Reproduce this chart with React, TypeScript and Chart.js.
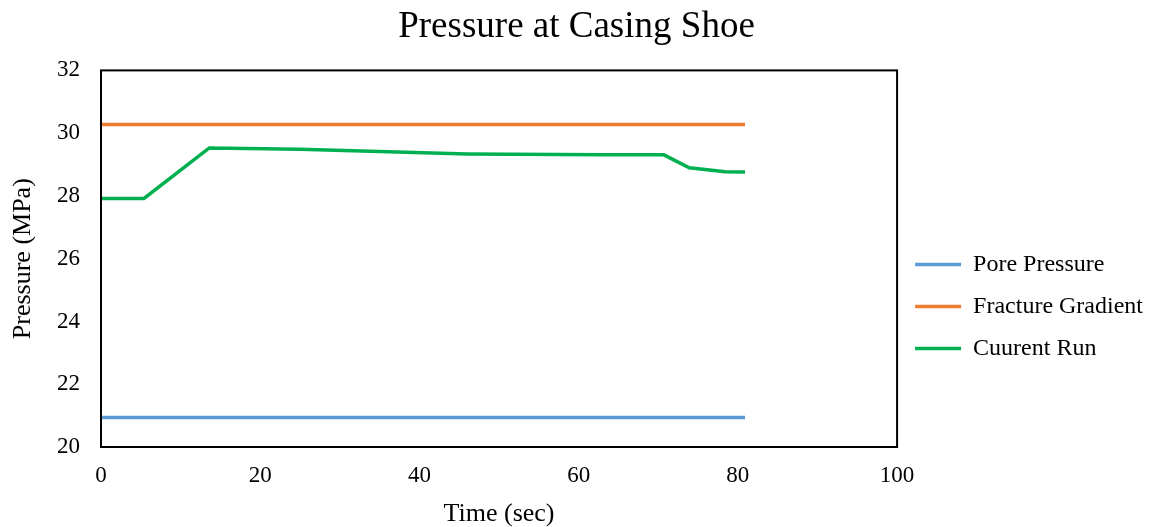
import React, { useEffect, useRef } from "react";
import { Chart, registerables } from "chart.js";

Chart.register(...registerables);

const chartTitle = "Pressure at Casing Shoe";
const xAxisTitle = "Time (sec)";
const yAxisTitle = "Pressure (MPa)";
const seriesNames = ["Pore Pressure", "Fracture Gradient", "Cuurent Run"];

const poreTime = [0, 80.9];
const porePressure = [20.94, 20.94];

const fractureTime = [0, 80.9];
const fractureGradient = [30.28, 30.28];

const runTime = [0, 5.4, 13.6, 25, 46, 63, 70.7, 73.9, 78.4, 80.9];
const runPressure = [27.92, 27.92, 29.53, 29.49, 29.34, 29.31, 29.31, 28.9, 28.77, 28.76];

const xMin = 0;
const xMax = 100;
const xStep = 20;
const yMin = 20;
const yMax = 32;
const yStep = 2;

const FONT = "'Liberation Serif', 'Times New Roman', serif";

const toPoints = (xs: number[], ys: number[]) => xs.map((x, i) => ({ x, y: ys[i] }));

const framePlugin = {
  id: "frame",
  afterDatasetsDraw(chart: any) {
    const { ctx, chartArea } = chart;
    ctx.save();
    ctx.strokeStyle = "#000000";
    ctx.lineWidth = 2;
    ctx.strokeRect(chartArea.left, chartArea.top, chartArea.right - chartArea.left, chartArea.bottom - chartArea.top);
    ctx.restore();
  },
};

export default function App() {
  const canvasRef = useRef<HTMLCanvasElement | null>(null);

  useEffect(() => {
    if (!canvasRef.current) return;
    const chart = new Chart(canvasRef.current, {
      type: "line",
      data: {
        datasets: [
          {
            label: seriesNames[0],
            data: toPoints(poreTime, porePressure),
            borderColor: "#5B9BD5",
            backgroundColor: "#5B9BD5",
            borderWidth: 3.5,
            pointRadius: 0,
            tension: 0,
          },
          {
            label: seriesNames[1],
            data: toPoints(fractureTime, fractureGradient),
            borderColor: "#ED7D31",
            backgroundColor: "#ED7D31",
            borderWidth: 3.5,
            pointRadius: 0,
            tension: 0,
          },
          {
            label: seriesNames[2],
            data: toPoints(runTime, runPressure),
            borderColor: "#00B050",
            backgroundColor: "#00B050",
            borderWidth: 3.5,
            pointRadius: 0,
            tension: 0,
          },
        ],
      },
      options: {
        responsive: false,
        animation: false,
        layout: { padding: { left: 0, right: 0, top: 0, bottom: 0 } },
        plugins: {
          title: {
            display: true,
            text: chartTitle,
            color: "#000000",
            font: { family: FONT, size: 37, weight: "normal" },
            padding: { top: 5, bottom: 21 },
          },
          legend: {
            position: "right",
            title: {
              display: true,
              text: " ",
              font: { family: FONT, size: 1, lineHeight: 1 },
              padding: { top: 85, bottom: 0 },
            },
            labels: {
              usePointStyle: true,
              pointStyle: "line",
              pointStyleWidth: 46,
              padding: 18,
              color: "#000000",
              font: { family: FONT, size: 24 },
            },
          },
          tooltip: { enabled: false },
        },
        scales: {
          x: {
            type: "linear",
            min: xMin,
            max: xMax,
            grid: { display: false, drawTicks: false },
            border: { display: false },
            ticks: {
              stepSize: xStep,
              padding: 15,
              color: "#000000",
              font: { family: FONT, size: 23 },
            },
            title: {
              display: true,
              text: xAxisTitle,
              color: "#000000",
              font: { family: FONT, size: 26, lineHeight: 0.96 },
              padding: { top: 0, bottom: 0 },
            },
            afterFit: (scale: any) => {
              scale.height = 80;
            },
          },
          y: {
            type: "linear",
            min: yMin,
            max: yMax,
            grid: { display: false, drawTicks: false },
            border: { display: false },
            ticks: {
              stepSize: yStep,
              padding: 21,
              color: "#000000",
              font: { family: FONT, size: 23 },
            },
            title: {
              display: true,
              text: yAxisTitle,
              color: "#000000",
              font: { family: FONT, size: 26 },
              padding: { top: 8, bottom: 0 },
            },
            afterFit: (scale: any) => {
              scale.width = 101;
            },
          },
        },
      },
      plugins: [framePlugin],
    });
    return () => chart.destroy();
  }, []);

  return (
    <div style={{ position: "fixed", left: 0, top: 0, width: 1153, height: 527, background: "#ffffff" }}>
      <canvas ref={canvasRef} width={1153} height={527} style={{ display: "block" }} />
    </div>
  );
}
